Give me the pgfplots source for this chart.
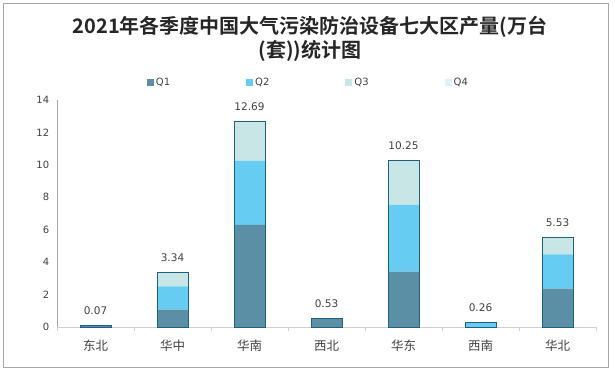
\documentclass[border=0pt]{standalone}
\usepackage{pgfplots}
\pgfplotsset{compat=1.18}
\usepackage{fontspec}
\setmainfont{DejaVu Sans}
\newfontfamily\cjk[BoldFont={Noto Sans CJK SC Bold}]{Noto Sans CJK SC}
\definecolor{qa}{HTML}{5B8FA6}
\definecolor{qb}{HTML}{66CCF2}
\definecolor{qc}{HTML}{C8E6E6}
\definecolor{qd}{HTML}{DDF2FA}
\definecolor{outc}{HTML}{1F5F80}
\definecolor{axisc}{HTML}{D0D0D0}
\definecolor{yaxisc}{HTML}{A6A6A6}
\definecolor{framec}{HTML}{A6A6A6}
\definecolor{titlec}{HTML}{262626}
\definecolor{labc}{HTML}{404040}
\begin{document}
\begin{tikzpicture}
\useasboundingbox (0pt,0pt) rectangle (615pt,371pt);
\draw[framec, line width=0.8pt] (3.5pt,3.5pt) rectangle (608pt,367.5pt);
\node[font=\cjk\bfseries\fontsize{20}{24}\selectfont, text=titlec, align=center] at (310pt,332pt) {2021年各季度中国大气污染防治设备七大区产量(万台\\(套))统计图};
\begin{axis}[
  at={(57pt,44pt)}, anchor=south west, scale only axis,
  width=539pt, height=227pt,
  ymin=0, ymax=14, xmin=-0.5, xmax=6.5,
  ybar stacked, bar width=31pt,
  axis lines*=left, x axis line style={draw=axisc, -}, y axis line style={draw=yaxisc, -},
  ytick={0,2,...,14}, ytick style={draw=none},
  xtick={0,...,6}, major x tick style={draw=none},
  xticklabels={东北,华中,华南,西北,华东,西南,华北},
  minor xtick={-0.5,0.5,...,6.5}, minor tick length=4.5pt, tick align=outside,
  minor x tick style={draw=axisc},
  xticklabel style={font=\cjk\fontsize{12.5}{12.5}\selectfont, text=labc, yshift=-5pt},
  yticklabel style={font=\fontsize{10}{10}\selectfont, text=labc},
  /pgf/number format/assume math mode=true,
  legend style={at={(0.161,1.079)}, anchor=west, draw=none, fill=none, legend columns=4,
    font=\fontsize{10}{10}\selectfont, text=labc,
    /tikz/every even column/.append style={column sep=74pt}},
  legend image code/.code={\fill[#1] (0pt,-3.5pt) rectangle (7pt,3.5pt);},
  clip=false,
]
\addplot[fill=qa, draw=none] coordinates {(0,0.07) (1,1.07) (2,6.30) (3,0.48) (4,3.41) (5,0) (6,2.36)};
\addplot[fill=qb, draw=none] coordinates {(0,0) (1,1.43) (2,3.95) (3,0) (4,4.12) (5,0.26) (6,2.12)};
\addplot[fill=qc, draw=none] coordinates {(0,0) (1,0.84) (2,2.44) (3,0.05) (4,2.72) (5,0) (6,1.05)};
\addplot[fill=qd, draw=none] coordinates {(0,0) (1,0) (2,0) (3,0) (4,0) (5,0) (6,0)};
\legend{Q1,Q2,Q3,Q4}
\end{axis}
\begin{axis}[
  at={(57pt,44pt)}, anchor=south west, scale only axis,
  width=539pt, height=227pt,
  ymin=0, ymax=14, xmin=-0.5, xmax=6.5,
  hide axis, ybar, bar width=31pt, clip=false,
  nodes near coords, point meta=explicit symbolic,
  nodes near coords style={font=\fontsize{10.5}{10.5}\selectfont, text=labc, anchor=south, yshift=7pt},
]
\addplot[fill=none, draw=outc, line width=0.9pt] coordinates {(0,0.07) [0.07] (1,3.34) [3.34] (2,12.69) [12.69] (3,0.53) [0.53] (4,10.25) [10.25] (5,0.26) [0.26] (6,5.53) [5.53]};
\end{axis}
\end{tikzpicture}
\end{document}
